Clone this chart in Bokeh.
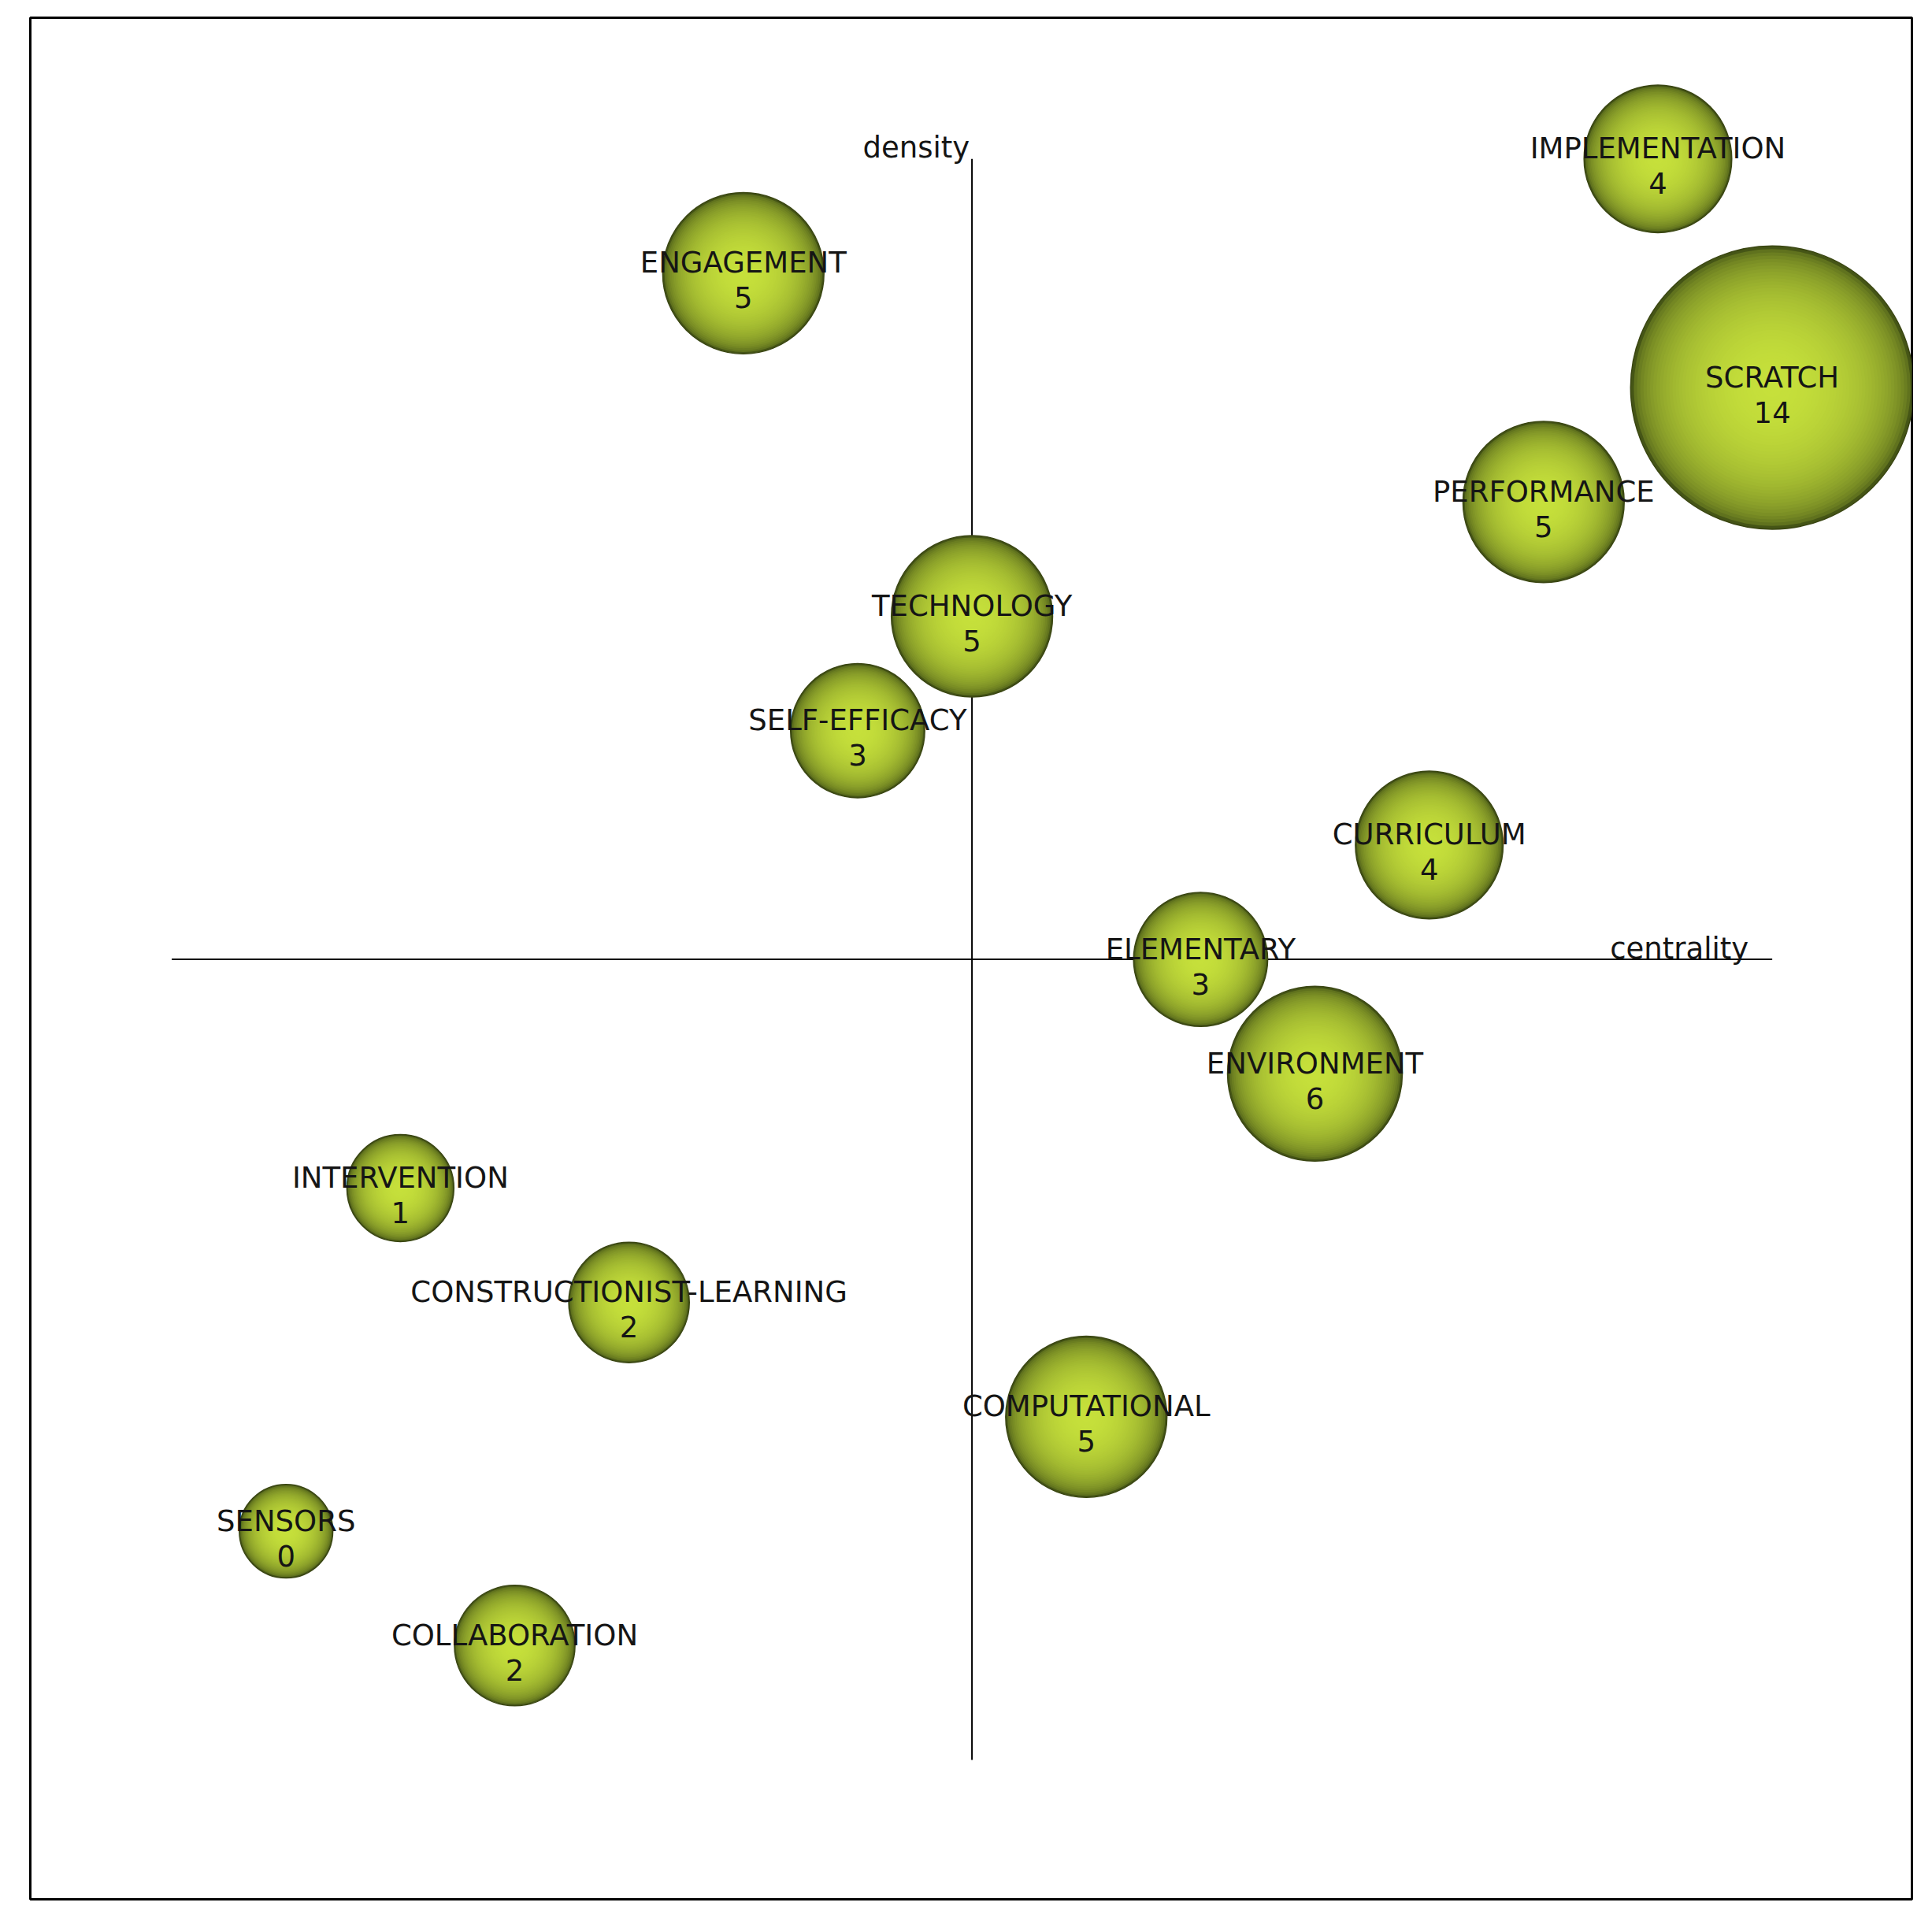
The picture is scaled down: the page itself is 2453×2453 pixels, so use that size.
import math
from bokeh.plotting import figure
from bokeh.models import ColumnDataSource
from bokeh.embed import file_html
from bokeh.resources import INLINE
from bokeh.core.properties import value

# ---- data (strategic diagram: centrality rank vs density rank) ----
themes = ["IMPLEMENTATION", "SCRATCH", "ENGAGEMENT", "PERFORMANCE", "TECHNOLOGY",
          "SELF-EFFICACY", "CURRICULUM", "ELEMENTARY", "ENVIRONMENT", "INTERVENTION",
          "CONSTRUCTIONIST-LEARNING", "COMPUTATIONAL", "SENSORS", "COLLABORATION"]
counts = [4, 14, 5, 5, 5, 3, 4, 3, 6, 1, 2, 5, 0, 2]
centrality_rank = [13, 14, 5, 12, 7, 6, 11, 9, 10, 2, 4, 8, 1, 3]
density_rank = [14, 12, 13, 11, 10, 9, 8, 7, 6, 5, 4, 3, 2, 1]
axis_min, axis_mid, axis_max = 0, 7, 14
x_label = "centrality"
y_label = "density"

FONT = "DejaVu Sans"
FS = "37px"

p = figure(frame_width=2389, frame_height=2389,
           min_border_left=38, min_border_top=22, min_border_right=8, min_border_bottom=8,
           x_range=(-1.237, 15.222), y_range=(-1.219, 15.234),
           x_axis_location=None, y_axis_location=None,
           toolbar_location=None, output_backend="svg",
           background_fill_color="white", border_fill_color="white")
p.grid.visible = False
p.outline_line_color = "black"
p.outline_line_width = 3

# axes cross lines
p.segment(x0=[axis_min, axis_mid], y0=[axis_mid, axis_min],
          x1=[axis_max, axis_mid], y1=[axis_mid, axis_max],
          line_color="black", line_width=2)

# bubbles with layered radial shading
radius_px = [59.4 + 8.6 * c for c in counts]
edge = (0x45, 0x55, 0x16)
center = (0xc6, 0xe0, 0x3b)
N = 44
for i in range(N):
    f = 1.0 - i / N
    t = math.sqrt(max(0.0, 1.0 - f * f))
    col = tuple(int(round(edge[k] + (center[k] - edge[k]) * t)) for k in range(3))
    hexc = "#%02x%02x%02x" % col
    src = ColumnDataSource(dict(x=centrality_rank, y=density_rank,
                                s=[2 * r * f for r in radius_px]))
    if i == 0:
        p.scatter("x", "y", size="s", source=src, fill_color=hexc,
                  line_color="#3a4612", line_width=1.5)
    else:
        p.scatter("x", "y", size="s", source=src, fill_color=hexc, line_color=None)

lab = ColumnDataSource(dict(x=centrality_rank, y=density_rank, name=themes,
                            num=[str(c) for c in counts]))
p.text("x", "y", text="name", source=lab, text_align="center", text_baseline="middle",
       y_offset=-13, text_font=value(FONT), text_font_size=FS, text_color="#151515")
p.text("x", "y", text="num", source=lab, text_align="center", text_baseline="middle",
       y_offset=31, text_font=value(FONT), text_font_size=FS, text_color="#151515")

# axis titles
p.text(x=[axis_mid], y=[axis_max], text=[y_label], text_align="right",
       text_baseline="alphabetic", x_offset=-3, y_offset=-14,
       text_font=value(FONT), text_font_size=FS, text_color="#151515")
p.text(x=[axis_max], y=[axis_mid], text=[x_label], text_align="right",
       text_baseline="alphabetic", x_offset=-30, y_offset=-14,
       text_font=value(FONT), text_font_size=FS, text_color="#151515")

open("out.html", "w").write(file_html(p, INLINE))
